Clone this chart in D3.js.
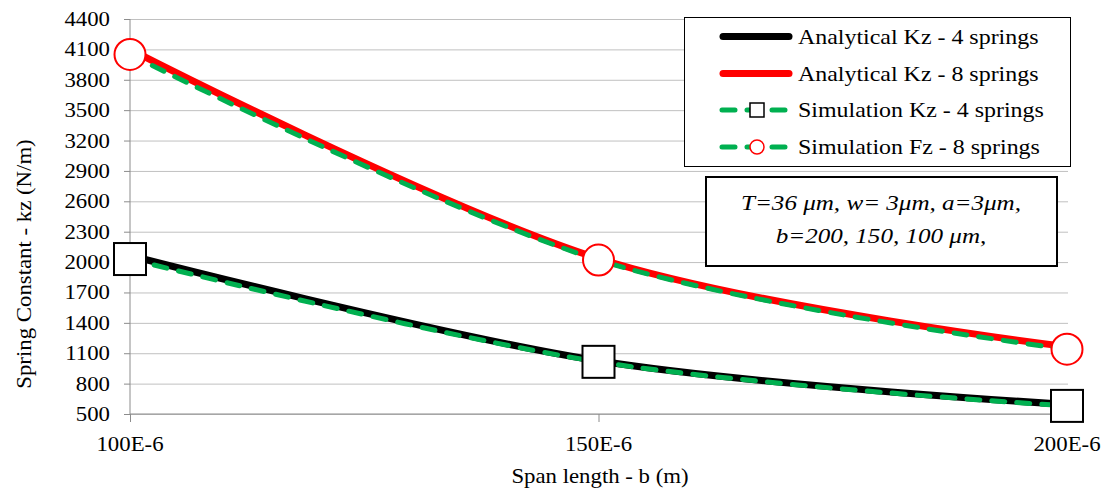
<!DOCTYPE html>
<html><head><meta charset="utf-8">
<script src="https://cdn.jsdelivr.net/npm/d3@7"></script>
</head>
<body style="margin:0;background:#fff">
<svg id="c" width="1109" height="493"></svg>
<script>
const xValues = [100e-6, 150e-6, 200e-6];
const xTickLabels = ["100E-6", "150E-6", "200E-6"];
const yTicks = [500, 800, 1100, 1400, 1700, 2000, 2300, 2600, 2900, 3200, 3500, 3800, 4100, 4400];
const analytical4 = [2065, 1025, 595];
const analytical8 = [4100, 2035, 1165];
const simulation4 = [2030, 1015, 580];
const simulation8 = [4050, 2020, 1140];
const legendLabels = ["Analytical Kz - 4 springs", "Analytical Kz - 8 springs", "Simulation Kz - 4 springs", "Simulation Fz - 8 springs"];
const noteLines = ["T=36 \u03bcm, w= 3\u03bcm, a=3\u03bcm,", "b=200, 150, 100 \u03bcm,"];
const xTitle = "Span length  - b (m)";
const yTitle = "Spring Constant - kz (N/m)";

const FONT = "Times New Roman";
const K = 1.14;
const svg = d3.select("#c");
const L = 130, R = 1068, T = 19, B = 414;
const x = d3.scaleLinear().domain([100e-6, 200e-6]).range([L, 1067]);
const y = d3.scaleLinear().domain([500, 4400]).range([B, T]);

function label(parent, txt, px, py, size, anchor, italic) {
  return parent.append("text")
    .attr("font-family", FONT).attr("font-size", size)
    .attr("font-style", italic ? "italic" : "normal")
    .attr("text-anchor", anchor).attr("fill", "#000")
    .attr("transform", `translate(${px},${py}) scale(${K},1)`)
    .text(txt);
}

// gridlines
const grid = svg.append("g").attr("transform", `translate(${L},0)`)
  .call(d3.axisLeft(y).tickValues(yTicks).tickSize(-(R - L)).tickFormat(""));
grid.select(".domain").remove();
grid.selectAll("text").remove();
grid.selectAll("line").attr("stroke", "#c0c0c0").attr("stroke-width", 1);

// y axis (line + ticks from d3 axis, labels drawn separately)
const ya = svg.append("g").attr("transform", `translate(${L},0)`)
  .call(d3.axisLeft(y).tickValues(yTicks).tickSize(6).tickFormat(""));
ya.selectAll("text").remove();
ya.select(".domain").attr("stroke", "#8c8c8c").attr("d", `M0,${T}V${B}`);
ya.selectAll("line").attr("stroke", "#8c8c8c");
const yLab = svg.append("g");
yTicks.forEach(v => label(yLab, d3.format("d")(v), 110, y(v) + 7, 20, "end", false));

// x axis
const xa = svg.append("g").attr("transform", `translate(0,${B})`)
  .call(d3.axisBottom(x).tickValues(xValues).tickSize(8).tickFormat(""));
xa.selectAll("text").remove();
xa.select(".domain").attr("stroke", "#8c8c8c").attr("d", `M${L},0H${R}`);
xa.selectAll("line").attr("stroke", "#8c8c8c");
const xLab = svg.append("g");
xValues.forEach((v, i) => label(xLab, xTickLabels[i], x(v), 451, 20, "middle", false));

// titles
label(svg, xTitle, 600, 483, 20, "middle", false);
svg.append("text").attr("font-family", FONT).attr("font-size", 20).attr("fill", "#000")
  .attr("text-anchor", "middle")
  .attr("transform", `translate(31,264) rotate(-90) scale(${K},1)`).text(yTitle);

// series
const line = d3.line().x((d, i) => x(xValues[i])).y(d => y(d)).curve(d3.curveCatmullRom.alpha(0));
svg.append("path").attr("d", line(analytical4)).attr("fill", "none")
  .attr("stroke", "#000").attr("stroke-width", 7).attr("stroke-linecap", "round");
svg.append("path").attr("d", line(analytical8)).attr("fill", "none")
  .attr("stroke", "#ff0000").attr("stroke-width", 7).attr("stroke-linecap", "round");
svg.append("path").attr("d", line(simulation4)).attr("fill", "none")
  .attr("stroke", "#00b050").attr("stroke-width", 5).attr("stroke-linecap", "round")
  .attr("stroke-dasharray", "13,12");
svg.selectAll(".sq").data(simulation4).join("rect").attr("class", "sq")
  .attr("x", (d, i) => x(xValues[i]) - 16).attr("y", d => y(d) - 16)
  .attr("width", 32).attr("height", 32).attr("fill", "#fff").attr("stroke", "#000").attr("stroke-width", 2);
svg.append("path").attr("d", line(simulation8)).attr("fill", "none")
  .attr("stroke", "#00b050").attr("stroke-width", 5).attr("stroke-linecap", "round")
  .attr("stroke-dasharray", "13,12");
svg.selectAll(".ci").data(simulation8).join("circle").attr("class", "ci")
  .attr("cx", (d, i) => x(xValues[i])).attr("cy", d => y(d)).attr("r", 15.5)
  .attr("fill", "#fff").attr("stroke", "#ff0000").attr("stroke-width", 2);

// legend
const lg = svg.append("g");
lg.append("rect").attr("x", 684.5).attr("y", 17.5).attr("width", 386).attr("height", 149)
  .attr("fill", "#fff").attr("stroke", "#000").attr("stroke-width", 1);
const rowY = [36.5, 73.5, 110, 147];
const kinds = [
  {c: "#000", w: 7, dash: null, m: null},
  {c: "#ff0000", w: 7, dash: null, m: null},
  {c: "#00b050", w: 5, dash: "13,12", m: "sq"},
  {c: "#00b050", w: 5, dash: "13,12", m: "ci"}
];
kinds.forEach((k, i) => {
  const yy = rowY[i];
  const p = lg.append("line").attr("x1", k.dash ? 722 : 723).attr("x2", 789).attr("y1", yy).attr("y2", yy)
    .attr("stroke", k.c).attr("stroke-width", k.w).attr("stroke-linecap", "round");
  if (k.dash) p.attr("stroke-dasharray", k.dash);
  if (k.m === "sq") lg.append("rect").attr("x", 750).attr("y", yy - 7).attr("width", 14).attr("height", 14)
    .attr("fill", "#fff").attr("stroke", "#000").attr("stroke-width", 1.5);
  if (k.m === "ci") lg.append("circle").attr("cx", 757).attr("cy", yy).attr("r", 7)
    .attr("fill", "#fff").attr("stroke", "#ff0000").attr("stroke-width", 1.5);
  label(lg, legendLabels[i], 798, yy + 7, 21, "start", false);
});

// annotation box
const nb = svg.append("g");
nb.append("rect").attr("x", 706).attr("y", 177).attr("width", 351).attr("height", 89)
  .attr("fill", "#fff").attr("stroke", "#000").attr("stroke-width", 2);
noteLines.forEach((s, i) => label(nb, s, 881, 210 + i * 33, 22, "middle", true));
</script></body></html>
